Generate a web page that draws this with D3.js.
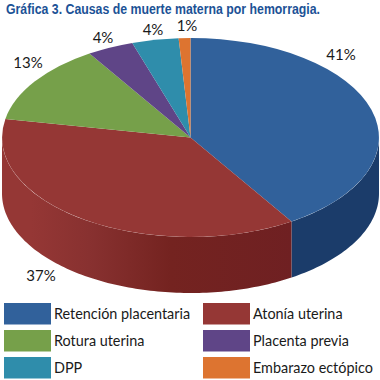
<!DOCTYPE html>
<html>
<head>
<meta charset="utf-8">
<script src="https://cdn.jsdelivr.net/npm/d3@7"></script>
<style>
html, body { margin: 0; padding: 0; background: #fff; }
svg { display: block; }
</style>
</head>
<body>
<div id="chart"></div>
<script>
var titulo = "Gráfica 3. Causas de muerte materna por hemorragia.";
var categorias = ["Retención placentaria", "Atonía uterina", "Rotura uterina", "Placenta previa", "DPP", "Embarazo ectópico"];
var valores = [41, 37, 13, 4, 4, 1];
var etiquetas = ["41%", "37%", "13%", "4%", "4%", "1%"];
var colores = ["#31619b", "#953735", "#76a04a", "#5f4587", "#2f8dab", "#dd7430"];

// label anchors, placed by hand like the original
var etiquetaX = [341, 41, 28, 103, 153, 187];
var etiquetaY = [60, 281, 68, 43, 35, 31];

var width = 380, height = 380;
var cx = 190.5, cy = 137.5, rx = 188.5, ry = 99.5, depth = 56;

var svg = d3.select("#chart").append("svg")
	.attr("width", width)
	.attr("height", height);

var defs = svg.append("defs");

var gradRed = defs.append("linearGradient").attr("id", "wallRed")
	.attr("gradientUnits", "userSpaceOnUse")
	.attr("x1", cx - rx).attr("x2", cx + 102).attr("y1", 0).attr("y2", 0);
gradRed.append("stop").attr("offset", "0%").attr("stop-color", "#953735");
gradRed.append("stop").attr("offset", "10%").attr("stop-color", "#953735");
gradRed.append("stop").attr("offset", "30%").attr("stop-color", "#883130");
gradRed.append("stop").attr("offset", "58%").attr("stop-color", "#742320");
gradRed.append("stop").attr("offset", "100%").attr("stop-color", "#6f2022");

var color = d3.scaleOrdinal().domain(categorias).range(colores);

var pie = d3.pie().sort(null)(valores);

// side wall, only the part facing the viewer (pi/2 to 3pi/2 clockwise from top)
function pared(a0, a1) {
	var from = Math.max(a0, Math.PI / 2);
	var to = Math.min(a1, Math.PI * 3 / 2);
	if (to <= from) return null;
	var angs = d3.range(from, to, 0.02).concat([to]);
	var top = angs.map(function (a) { return [cx + rx * Math.sin(a), cy - ry * Math.cos(a)]; });
	var bot = angs.slice().reverse().map(function (a) { return [cx + rx * Math.sin(a), cy - ry * Math.cos(a) + depth]; });
	return d3.line()(top.concat(bot)) + "Z";
}

var wallFill = ["#1b3c6a", "url(#wallRed)"];

svg.append("g").selectAll("path")
	.data(pie)
	.enter()
	.append("path")
	.attr("d", function (d) { return pared(d.startAngle, d.endAngle); })
	.attr("fill", function (d, i) { return wallFill[i] || color(categorias[i]); });

// top face: unit arc squashed into the ellipse
var arc = d3.arc().innerRadius(0).outerRadius(1);
svg.append("g")
	.attr("transform", "translate(" + cx + "," + cy + ") scale(" + rx + "," + ry + ")")
	.selectAll("path")
	.data(pie)
	.enter()
	.append("path")
	.attr("d", arc)
	.attr("fill", function (d, i) { return color(categorias[i]); });

svg.append("text")
	.attr("x", 6)
	.attr("y", 14)
	.attr("font-family", "'Liberation Sans Narrow', 'Liberation Sans', sans-serif")
	.attr("font-weight", "bold")
	.attr("font-size", 14)
	.attr("textLength", 314)
	.attr("lengthAdjust", "spacingAndGlyphs")
	.attr("fill", "#1c5296")
	.text(titulo);

svg.append("g").selectAll("text")
	.data(etiquetas)
	.enter()
	.append("text")
	.attr("x", function (d, i) { return etiquetaX[i]; })
	.attr("y", function (d, i) { return etiquetaY[i]; })
	.attr("text-anchor", "middle")
	.attr("font-family", "Lato, sans-serif")
	.attr("font-size", 15)
	.attr("fill", "#1a1a1a")
	.text(function (d) { return d; });

// legend, two columns by three rows
var legX = d3.scalePoint().domain([0, 1]).range([4, 203]);
var legY = d3.scalePoint().domain([0, 1, 2]).range([303, 357]);

var leg = svg.append("g").selectAll("g")
	.data(categorias)
	.enter()
	.append("g")
	.attr("transform", function (d, i) { return "translate(" + legX(i % 2) + "," + legY(Math.floor(i / 2)) + ")"; });

leg.append("rect")
	.attr("width", 47)
	.attr("height", 21.5)
	.attr("fill", function (d) { return color(d); });

leg.append("text")
	.attr("x", 50)
	.attr("y", 16)
	.attr("font-family", "Lato, sans-serif")
	.attr("font-size", 14.4)
	.attr("fill", "#1a1a1a")
	.text(function (d) { return d; });
</script>
</body>
</html>
